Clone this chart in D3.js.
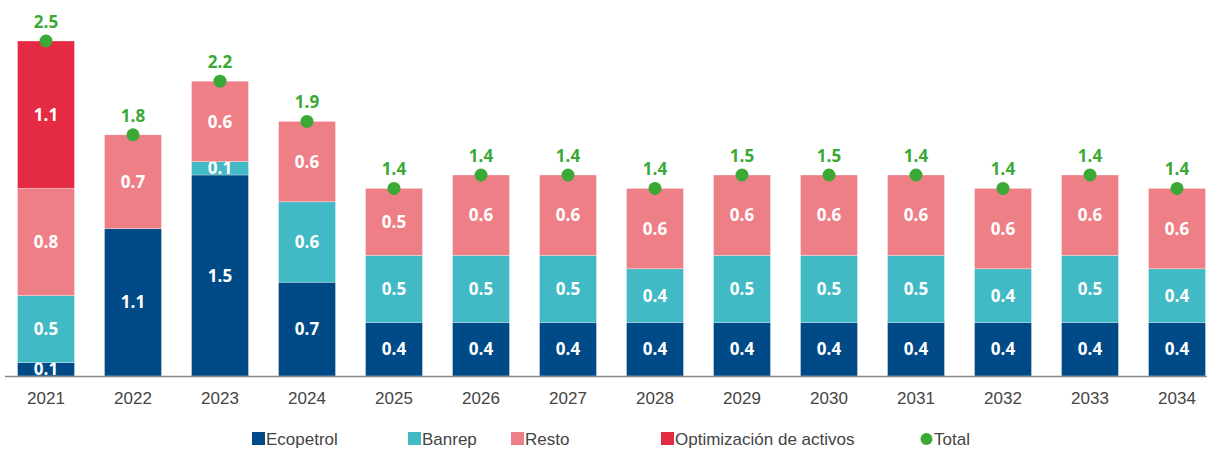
<!DOCTYPE html>
<html>
<head>
<meta charset="utf-8">
<style>
  body { margin: 0; background: #fff; }
  .axis .domain { stroke: #888; stroke-width: 1.5; }
  .axis .tick line { display: none; }
  .axis text { font-family: "Liberation Sans", Arial, sans-serif; font-size: 17px; fill: #444; }
</style>
</head>
<body>
<svg width="1207" height="450"></svg>
<script src="https://d3js.org/d3.v7.min.js"></script>
<script>

// values (billions)
var years = ["2021","2022","2023","2024","2025","2026","2027","2028","2029","2030","2031","2032","2033","2034"];
var ecopetrol = [0.1, 1.1, 1.5, 0.7, 0.4, 0.4, 0.4, 0.4, 0.4, 0.4, 0.4, 0.4, 0.4, 0.4];
var banrep    = [0.5, 0,   0.1, 0.6, 0.5, 0.5, 0.5, 0.4, 0.5, 0.5, 0.5, 0.4, 0.5, 0.4];
var resto     = [0.8, 0.7, 0.6, 0.6, 0.5, 0.6, 0.6, 0.6, 0.6, 0.6, 0.6, 0.6, 0.6, 0.6];
var optim     = [1.1, 0,   0,   0,   0,   0,   0,   0,   0,   0,   0,   0,   0,   0];
var totals    = [2.5, 1.8, 2.2, 1.9, 1.4, 1.4, 1.4, 1.4, 1.5, 1.5, 1.4, 1.4, 1.4, 1.4];

var keys = ["Ecopetrol", "Banrep", "Resto", "Optimización de activos"];
var colors = ["#004b87", "#41bac6", "#ef7f87", "#e52a44"];
var green = "#3aa935";

var data = years.map(function(y, i) {
  return {year: y, "Ecopetrol": ecopetrol[i], "Banrep": banrep[i], "Resto": resto[i],
          "Optimización de activos": optim[i], total: totals[i]};
});

var svg = d3.select("svg");
var baseY = 376;

var x = d3.scaleBand()
    .domain(years)
    .range([2.5, 1220.5])
    .paddingInner(0.345)
    .paddingOuter(0.1725);

var y = d3.scaleLinear()
    .domain([0, 2.5])
    .range([baseY, 41]);

var z = d3.scaleOrdinal().domain(keys).range(colors);

var series = d3.stack().keys(keys)(data);

var layer = svg.append("g").selectAll("g")
  .data(series)
  .enter().append("g")
    .attr("fill", function(d) { return z(d.key); });

layer.selectAll("rect")
  .data(function(d) { return d.filter(function(p) { return p[1] - p[0] > 0; }); })
  .enter().append("rect")
    .attr("x", function(d) { return x(d.data.year); })
    .attr("y", function(d) { return y(d[1]); })
    .attr("width", x.bandwidth())
    .attr("height", function(d) { return y(d[0]) - y(d[1]); })
    .attr("stroke", "#fff")
    .attr("stroke-opacity", 0.5)
    .attr("stroke-width", 0.6);

layer.selectAll("text")
  .data(function(d) { return d.filter(function(p) { return p[1] - p[0] > 0; }); })
  .enter().append("text")
    .attr("x", function(d) { return x(d.data.year) + x.bandwidth() / 2; })
    .attr("y", function(d) { return (y(d[0]) + y(d[1])) / 2; })
    .attr("dy", "0.36em")
    .attr("text-anchor", "middle")
    .attr("fill", "#fff")
    .attr("font-family", "'Open Sans', sans-serif")
    .attr("font-weight", "bold")
    .attr("font-size", 17)
    .text(function(d) { return d3.format(".1f")(d[1] - d[0]); });

// x axis
svg.append("g")
    .attr("class", "axis")
    .attr("transform", "translate(0," + baseY + ")")
    .call(d3.axisBottom(x).tickSize(0).tickPadding(16))
  .select(".domain")
    .attr("d", "M5,0.5H1207");

// totals, sitting on the top of each stack
var topLayer = series[series.length - 1];
var tot = svg.append("g").selectAll("g")
  .data(data)
  .enter().append("g")
    .attr("transform", function(d, i) {
      return "translate(" + (x(d.year) + x.bandwidth() / 2) + "," + y(topLayer[i][1]) + ")";
    });

tot.append("circle")
    .attr("r", 6.5)
    .attr("fill", green);

tot.append("text")
    .attr("y", -13)
    .attr("text-anchor", "middle")
    .attr("fill", green)
    .attr("font-family", "'Open Sans', sans-serif")
    .attr("font-weight", "bold")
    .attr("font-size", 17)
    .text(function(d) { return d3.format(".1f")(d.total); });

// legend
var legendItems = [
  {name: "Ecopetrol", color: colors[0], x: 252, shape: "rect"},
  {name: "Banrep", color: colors[1], x: 408, shape: "rect"},
  {name: "Resto", color: colors[2], x: 511, shape: "rect"},
  {name: "Optimización de activos", color: colors[3], x: 661, shape: "rect"},
  {name: "Total", color: green, x: 920, shape: "circle"}
];

var legend = svg.append("g")
  .selectAll("g")
  .data(legendItems)
  .enter().append("g")
    .attr("transform", function(d) { return "translate(" + d.x + ",439)"; });

legend.filter(function(d) { return d.shape === "rect"; })
  .append("rect")
    .attr("y", -7)
    .attr("width", 13)
    .attr("height", 13)
    .attr("fill", function(d) { return d.color; });

legend.filter(function(d) { return d.shape === "circle"; })
  .append("circle")
    .attr("cx", 6.5)
    .attr("r", 6)
    .attr("fill", function(d) { return d.color; });

legend.append("text")
    .attr("x", 14)
    .attr("dy", "0.36em")
    .attr("fill", "#444")
    .attr("font-family", "'Liberation Sans', Arial, sans-serif")
    .attr("font-size", 17)
    .text(function(d) { return d.name; });

</script>
</body>
</html>
